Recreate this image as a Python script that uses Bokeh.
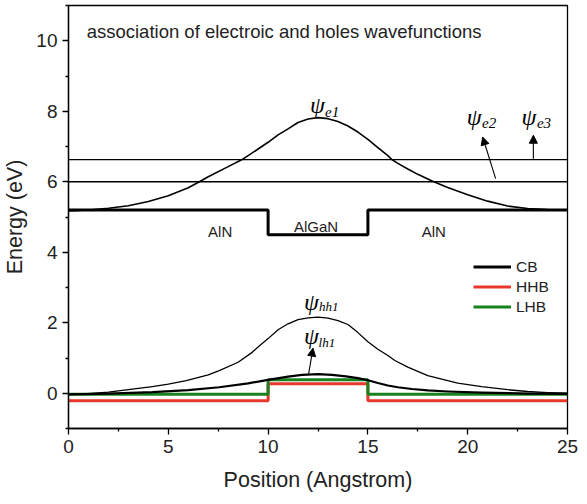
from bokeh.plotting import figure
from bokeh.models import FixedTicker, Legend, LegendItem, Label, Arrow, NormalHead
from bokeh.embed import file_html
from bokeh.resources import INLINE

# ---------------- data ----------------
layer_names = ["AlN", "AlGaN", "AlN"]
layer_edges = [0, 10, 15, 25]
cb_levels = [5.2, 4.5, 5.2]
hhb_levels = [-0.21, 0.27, -0.21]
lhb_levels = [-0.03, 0.38, -0.03]

level_e2 = 6.0
level_e3 = 6.63

pos_e1 = [0, 1, 2, 3, 4, 5, 6, 6.56, 7, 8, 8.7, 9, 9.5, 10, 10.5, 11, 11.5, 12, 12.5, 13,
          13.5, 14, 14.5, 15, 15.5, 16, 16.2, 16.5, 17, 17.5, 18, 18.3, 19, 20, 21, 22, 23,
          24, 25]
psi_e1 = [5.17, 5.2, 5.25, 5.32, 5.44, 5.6, 5.83, 6.0, 6.14, 6.43, 6.63, 6.74, 6.93, 7.12,
          7.33, 7.5, 7.68, 7.78, 7.82, 7.79, 7.71, 7.58, 7.41, 7.2, 6.97, 6.74, 6.63, 6.52,
          6.36, 6.21, 6.08, 6.0, 5.84, 5.63, 5.45, 5.31, 5.24, 5.21, 5.2]

pos_hh1 = [0, 1, 2, 3, 4.2, 5, 5.9, 7, 7.55, 8.5, 9.2, 9.6, 10, 10.5, 11, 11.5, 12, 12.5,
           13, 13.5, 14, 14.5, 15, 15.5, 16, 16.35, 17, 18, 19.5, 20.7, 22, 23, 24, 25]
psi_hh1 = [-0.03, -0.01, 0.03, 0.1, 0.19, 0.26, 0.36, 0.52, 0.64, 0.88, 1.16, 1.36, 1.55,
           1.8, 1.97, 2.09, 2.14, 2.16, 2.13, 2.06, 1.95, 1.72, 1.46, 1.25, 1.07, 0.93, 0.74,
           0.5, 0.29, 0.19, 0.1, 0.05, 0.02, 0.0]

pos_lh1 = [0, 2, 4.2, 6, 7.55, 9, 10, 11, 11.7, 12.5, 13.2, 13.9, 14.5, 15, 15.5, 16, 16.5,
           17.2, 18, 19, 20.7, 23, 25]
psi_lh1 = [-0.03, -0.01, 0.03, 0.09, 0.17, 0.28, 0.38, 0.47, 0.52, 0.54, 0.52, 0.48, 0.43,
           0.37, 0.29, 0.22, 0.17, 0.12, 0.08, 0.05, 0.02, -0.01, -0.02]

x_ticks = [0, 5, 10, 15, 20, 25]
x_minor = [2.5, 7.5, 12.5, 17.5, 22.5]
y_ticks = [0, 2, 4, 6, 8, 10]
y_minor = [-1, 1, 3, 5, 7, 9, 11]

title_text = "association of electroic and holes wavefunctions"

# ---------------- figure ----------------
FONT = "Liberation Sans"
SERIF = "Liberation Serif"
RED = "#e8382c"
GREEN = "#18821f"

p = figure(width=587, height=504, x_range=(0, 25), y_range=(-1, 11),
           output_backend="svg", toolbar_location=None,
           min_border_left=65, min_border_right=20, min_border_top=5, min_border_bottom=76)
p.xgrid.visible = False
p.ygrid.visible = False
p.outline_line_color = "black"
p.outline_line_width = 1.3
p.background_fill_color = "white"
p.border_fill_color = "white"

for ax, ticks, minor in ((p.xaxis[0], x_ticks, x_minor), (p.yaxis[0], y_ticks, y_minor)):
    ax.ticker = FixedTicker(ticks=ticks, minor_ticks=minor)
    ax.major_tick_out = 6
    ax.major_tick_in = 0
    ax.minor_tick_out = 3
    ax.minor_tick_in = 0
    ax.axis_line_width = 1.3
    ax.major_tick_line_width = 1.3
    ax.minor_tick_line_width = 1.3
    ax.major_label_text_font = FONT
    ax.major_label_text_font_size = "19px"
    ax.major_label_text_color = "#222222"
    ax.axis_label_text_font = FONT
    ax.axis_label_text_font_size = "21.5px"
    ax.axis_label_text_font_style = "normal"
    ax.axis_label_text_color = "#222222"

p.xaxis.axis_label = "Position (Angstrom)"
p.yaxis.axis_label = "Energy (eV)"
p.xaxis.axis_label_standoff = 12
p.yaxis.axis_label_standoff = 6
p.xaxis.major_label_standoff = 5
p.yaxis.major_label_standoff = 5

# step profiles
step_x = layer_edges
cb_y = cb_levels + [cb_levels[-1]]
hhb_y = hhb_levels + [hhb_levels[-1]]
lhb_y = lhb_levels + [lhb_levels[-1]]

r_hhb = p.step(step_x, hhb_y, mode="after", line_color=RED, line_width=3)
r_lhb = p.step(step_x, lhb_y, mode="after", line_color=GREEN, line_width=3)

# energy levels
p.segment(x0=[layer_edges[0]] * 2, x1=[layer_edges[-1]] * 2,
          y0=[level_e2, level_e3], y1=[level_e2, level_e3], line_color="black", line_width=1.3)

# wavefunctions
p.line(pos_e1, psi_e1, line_color="black", line_width=1.6, line_join="round")
p.line(pos_hh1, psi_hh1, line_color="black", line_width=1.3, line_join="round")
p.line(pos_lh1, psi_lh1, line_color="black", line_width=2.2, line_join="round")

r_cb = p.step(step_x, cb_y, mode="after", line_color="black", line_width=3)

# layer labels
layer_label_x = [7.6, 12.4, 18.3]
layer_label_y = [4.59, 4.74, 4.59]
for name, lx, ly in zip(layer_names, layer_label_x, layer_label_y):
    p.add_layout(Label(x=lx, y=ly, text=name, text_font=FONT, text_font_size="15px",
                       text_align="center", text_baseline="middle", text_color="#222222"))

p.add_layout(Label(x=0.91, y=10.26, text=title_text, text_font=FONT, text_font_size="18.5px",
                   text_align="left", text_baseline="alphabetic", text_color="#222222"))

# psi labels: (psi_x, psi_y, sub_text, sub_x, sub_y, sub_size)
psi_labels = [
    (12.1, 8.19, "e1", 12.85, 7.99, "15px"),
    (19.95, 7.85, "e2", 20.72, 7.66, "15px"),
    (22.7, 7.85, "e3", 23.47, 7.66, "15px"),
    (11.8, 2.6, "hh1", 12.55, 2.45, "13px"),
    (11.8, 1.63, "lh1", 12.53, 1.45, "13px"),
]
for px_, py_, sub, sx, sy, ss in psi_labels:
    p.add_layout(Label(x=px_, y=py_, text="\u03c8", text_font=SERIF, text_font_style="italic",
                       text_font_size="24px", text_align="left", text_baseline="middle",
                       text_color="black"))
    p.add_layout(Label(x=sx, y=sy, text=sub, text_font=SERIF, text_font_style="italic",
                       text_font_size=ss, text_align="left", text_baseline="middle",
                       text_color="black"))

# arrows: (x_start, y_start, x_end, y_end)
arrows = [
    (21.4, 6.09, 20.75, 7.27),
    (23.29, 6.65, 23.29, 7.32),
    (12.03, 0.55, 12.25, 1.28),
]
for xs, ys, xe, ye in arrows:
    p.add_layout(Arrow(end=NormalHead(size=8, fill_color="black", line_color="black", line_width=1),
                       x_start=xs, y_start=ys, x_end=xe, y_end=ye, line_width=1.1,
                       line_color="black"))

legend = Legend(items=[LegendItem(label="CB", renderers=[r_cb]),
                       LegendItem(label="HHB", renderers=[r_hhb]),
                       LegendItem(label="LHB", renderers=[r_lhb])],
                location=(405, 112), border_line_color=None, background_fill_alpha=0,
                glyph_width=38, glyph_height=19, label_height=19, spacing=1,
                label_standoff=5, padding=0, margin=0,
                label_text_font=FONT, label_text_font_size="15.5px", label_text_color="#222222")
p.add_layout(legend)

open("out.html", "w").write(file_html(p, INLINE))
